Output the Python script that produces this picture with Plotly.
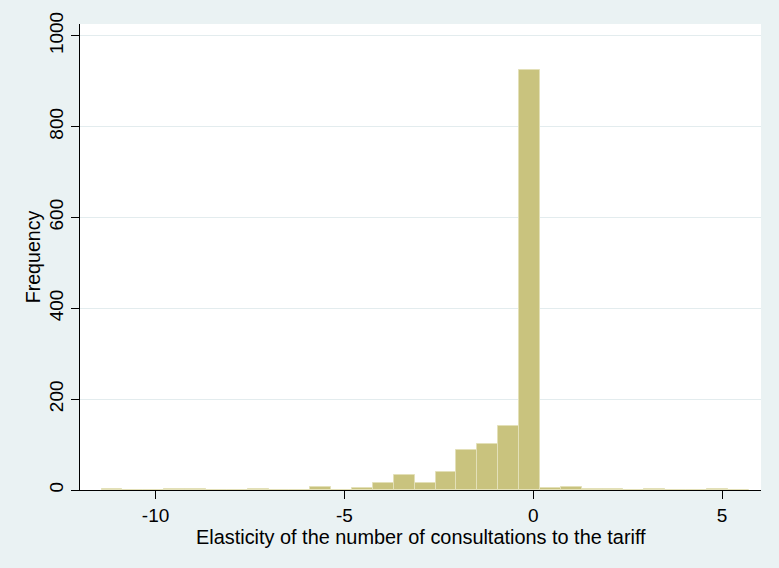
import plotly.graph_objects as go

# Histogram data (31 equal-width bins)
bin_start = -11.43
bin_width = 0.5527
counts = [2, 0, 0, 2, 3, 1, 0, 2, 0, 1, 6, 1, 4, 16, 34, 16, 39, 88, 101, 141,
          924, 4, 6, 2, 2, 1, 3, 1, 0, 2, 1]
x_ticks = [-10, -5, 0, 5]
y_ticks = [0, 200, 400, 600, 800, 1000]
x_title = "Elasticity of the number of consultations to the tariff"
y_title = "Frequency"

bin_centers = [bin_start + bin_width * (i + 0.5) for i in range(len(counts))]

FONT = "Liberation Sans, Arial, sans-serif"
PAPER = "#EAF2F3"

fig = go.Figure()
fig.add_trace(go.Bar(
    x=bin_centers,
    y=counts,
    width=[bin_width] * len(counts),
    marker=dict(color="#C9C37E", line=dict(color="#E3E0B8", width=1)),
    hoverinfo="x+y",
))

fig.update_layout(
    width=779,
    height=568,
    paper_bgcolor=PAPER,
    plot_bgcolor="white",
    margin=dict(l=80, r=18, t=21, b=78),
    showlegend=False,
    bargap=0,
    font=dict(family=FONT, size=19, color="black"),
    xaxis=dict(
        range=[-12.0, 6.03],
        tickmode="array",
        tickvals=x_ticks,
        ticktext=[str(v) for v in x_ticks],
        ticks="outside",
        ticklen=8,
        tickwidth=1,
        tickcolor="black",
        showline=True,
        linecolor="black",
        linewidth=1,
        showgrid=False,
        zeroline=False,
        tickfont=dict(family=FONT, size=19, color="black"),
    ),
    yaxis=dict(
        range=[0, 1026],
        tickmode="array",
        tickvals=y_ticks,
        ticktext=[str(v) for v in y_ticks],
        tickangle=-90,
        ticks="outside",
        ticklen=8,
        tickwidth=1,
        tickcolor="black",
        showline=True,
        linecolor="black",
        linewidth=1,
        showgrid=True,
        gridcolor="#E3ECEE",
        gridwidth=1,
        zeroline=False,
        tickfont=dict(family=FONT, size=19, color="black"),
        title=dict(text=y_title, font=dict(family=FONT, size=19.6, color="black"),
                   standoff=0),
    ),
    annotations=[dict(
        text=x_title, xref="paper", yref="paper", x=0.5, y=0,
        xanchor="center", yanchor="top", yshift=-35, borderpad=0,
        showarrow=False,
        font=dict(family=FONT, size=19.9, color="black"),
    )],
)

fig.write_html(
    "out.html",
    config={"displayModeBar": False},
    post_script="document.body.style.margin='0';document.body.style.overflow='hidden';",
)
